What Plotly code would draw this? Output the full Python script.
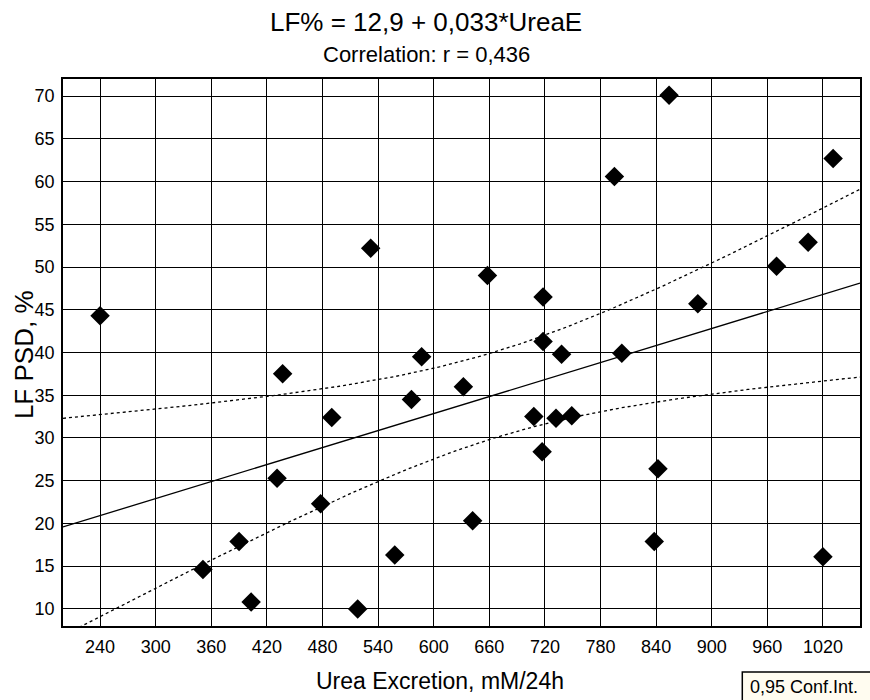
import numpy as np
import plotly.graph_objects as go

# ---- data ----
urea = [240, 351, 390, 403, 431, 437, 478, 490, 518, 532, 558, 576, 587, 632, 642, 658,
        708, 717, 718, 718, 732, 738, 749, 795, 803, 838, 842, 854, 885, 970, 1004, 1020, 1031]
lf_psd = [44.3, 14.6, 17.9, 10.8, 25.3, 37.5, 22.3, 32.4, 10.0, 52.2, 16.3, 34.5, 39.5, 36.0, 20.3, 49.0,
          32.5, 28.4, 41.3, 46.5, 32.3, 39.8, 32.6, 60.6, 39.9, 17.9, 26.4, 70.1, 45.7, 50.1, 52.9, 16.1, 62.7]
x_ticks = [240, 300, 360, 420, 480, 540, 600, 660, 720, 780, 840, 900, 960, 1020]
y_ticks = [10, 15, 20, 25, 30, 35, 40, 45, 50, 55, 60, 65, 70]
x_range = [200, 1060]
y_range = [8, 72]

# ---- regression & 95% confidence band ----
x = np.array(urea, float)
y = np.array(lf_psd, float)
n = len(x)
b, a = np.polyfit(x, y, 1)
resid = y - (a + b * x)
s = np.sqrt(np.sum(resid ** 2) / (n - 2))
xm = x.mean()
sxx = np.sum((x - xm) ** 2)
t_crit = 2.04
xs = np.linspace(x_range[0], x_range[1], 200)
yh = a + b * xs
se = s * np.sqrt(1.0 / n + (xs - xm) ** 2 / sxx)
upper = yh + t_crit * se
lower = yh - t_crit * se

FONT = "Liberation Sans, Arial, sans-serif"

fig = go.Figure()
fig.add_trace(go.Scatter(x=xs, y=yh, mode="lines", line=dict(color="black", width=1.3),
                         hoverinfo="skip", showlegend=False))
fig.add_trace(go.Scatter(x=xs, y=upper, mode="lines", line=dict(color="black", width=1.3, dash="3px,3px"),
                         hoverinfo="skip", showlegend=False))
fig.add_trace(go.Scatter(x=xs, y=lower, mode="lines", line=dict(color="black", width=1.3, dash="3px,3px"),
                         hoverinfo="skip", showlegend=False))
fig.add_trace(go.Scatter(x=urea, y=lf_psd, mode="markers",
                         marker=dict(symbol="diamond", size=15, color="black"),
                         showlegend=False))

W, H = 870, 700
L, R, T, B = 63, 8, 79, 74
ph = H - T - B

def py(p):
    return (H - B - p) / ph

def px(p):
    return (p - L) / (W - L - R)

annotations = [
    dict(text="LF% = 12,9 + 0,033*UreaE", x=px(427), y=py(22), xref="paper", yref="paper",
         showarrow=False, font=dict(family=FONT, size=26, color="black"), xanchor="center", yanchor="middle"),
    dict(text="Correlation: r = 0,436", x=px(427), y=py(54), xref="paper", yref="paper",
         showarrow=False, font=dict(family=FONT, size=22, color="black"), xanchor="center", yanchor="middle"),
    dict(text="Urea Excretion, mM/24h", x=px(441), y=py(681), xref="paper", yref="paper",
         showarrow=False, font=dict(family=FONT, size=23, color="black"), xanchor="center", yanchor="middle"),
    dict(text="LF PSD, %", x=px(24), y=py(355), xref="paper", yref="paper", textangle=-90,
         showarrow=False, font=dict(family=FONT, size=26, color="black"), xanchor="center", yanchor="middle"),
    dict(text="0,95 Conf.Int.", x=px(750), y=py(687), xref="paper", yref="paper",
         showarrow=False, font=dict(family=FONT, size=18, color="black"), xanchor="left", yanchor="middle"),
]

shapes = [
    dict(type="rect", xref="paper", yref="paper", x0=px(744), x1=px(880), y0=py(672), y1=py(710),
         fillcolor="#fffcf0", line=dict(color="black", width=1.5), layer="above"),
]

axis_common = dict(showline=True, linecolor="black", linewidth=1.5, mirror="ticks",
                   ticks="inside", ticklen=4, tickcolor="black",
                   showgrid=True, gridcolor="black", gridwidth=1, zeroline=False,
                   tickfont=dict(family=FONT, size=18, color="black"))

fig.update_layout(
    width=W, height=H,
    margin=dict(l=L, r=R, t=T, b=B, pad=0),
    paper_bgcolor="white", plot_bgcolor="white",
    annotations=annotations, shapes=shapes,
    xaxis=dict(range=x_range, tickvals=x_ticks, ticklabelstandoff=4, **axis_common),
    yaxis=dict(range=y_range, tickvals=y_ticks, ticklabelstandoff=3, **axis_common),
)

fig.write_html("out.html")
